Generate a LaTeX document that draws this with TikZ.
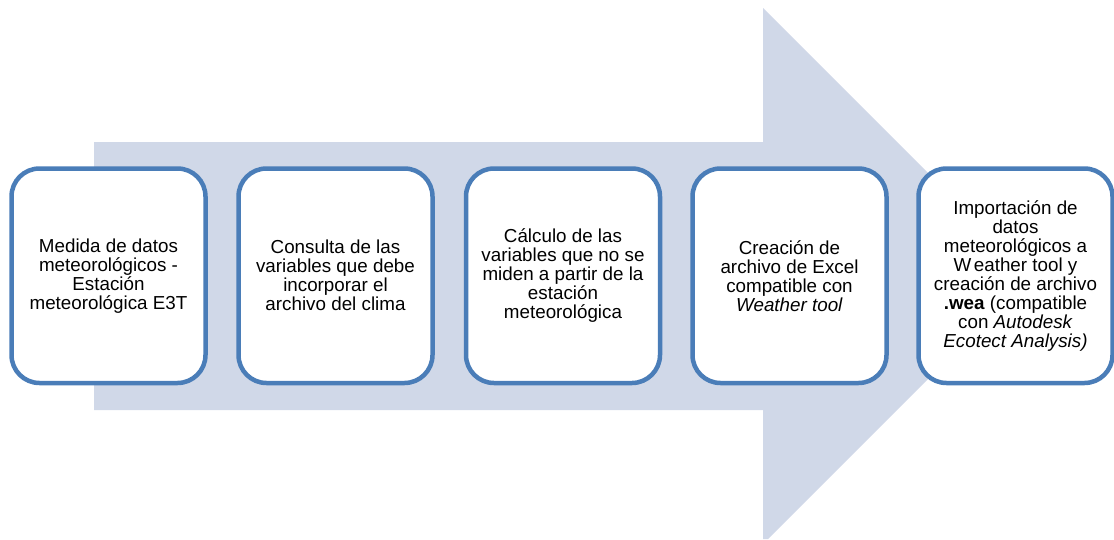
\documentclass[tikz,border=0pt]{standalone}
\usepackage{fontspec}
\setmainfont{Liberation Sans}
\definecolor{arrowfill}{HTML}{D0D8E8}
\definecolor{boxline}{HTML}{4A7DB8}
\tikzset{
  stepbox/.style={draw=boxline, fill=white, line width=4.5pt, rounded corners=28pt,
    rectangle, minimum width=194pt, minimum height=214.5pt, inner sep=0pt,
    align=center, font=\fontsize{18.8}{19}\selectfont, text=black},
  bigarrow/.style={fill=arrowfill}
}
\begin{document}
\begin{tikzpicture}[x=1pt,y=-1pt]
\useasboundingbox (0,0) rectangle (1114,539);
\fill[bigarrow] (94,142) -- (763,142) -- (763,8) -- (1031,276) -- (768,539) -- (763,539) -- (763,410) -- (94,410) -- cycle;
\node[stepbox] (b1) at (108.5,275.75) {Medida de datos\\meteorológicos -\\Estación\\meteorológica E3T};
\node[stepbox] (b2) at (335.5,275.75) {Consulta de las\\variables que debe\\incorporar el\\archivo del clima};
\node[stepbox] (b3) at (563,275.75) {Cálculo de las\\variables que no se\\miden a partir de la\\estación\\meteorológica};
\node[stepbox] (b4) at (789.5,275.75) {Creación de\\archivo de Excel\\compatible con\\\textit{Weather tool}};
\node[stepbox] (b5) at (1015.5,275.75) {Importación de\\datos\\meteorológicos a\\W\kern2.5pt eather tool y\\creación de archivo\\\textbf{.wea} (compatible\\con \textit{Autodesk}\\\textit{Ecotect Analysis)}};
\end{tikzpicture}
\end{document}
